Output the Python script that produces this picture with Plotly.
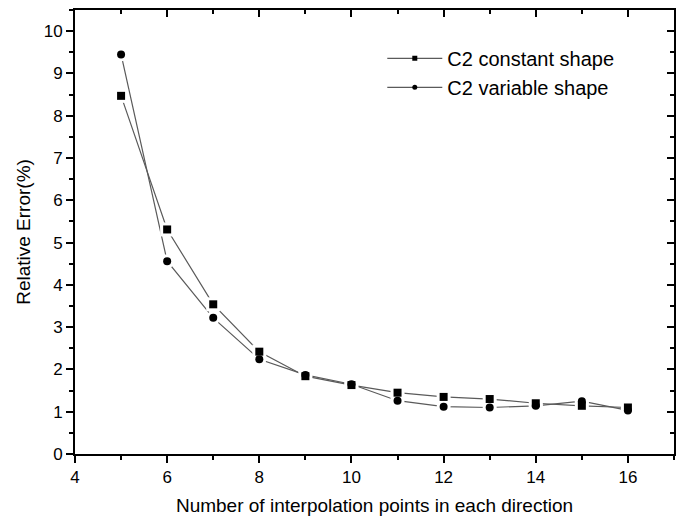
import plotly.graph_objects as go

# Number of interpolation points in each direction
points = [5, 6, 7, 8, 9, 10, 11, 12, 13, 14, 15, 16]

# Relative error (%) for each shape-parameter strategy
err_constant = [8.47, 5.31, 3.54, 2.42, 1.84, 1.63, 1.45, 1.35, 1.30, 1.20, 1.14, 1.10]
err_variable = [9.45, 4.56, 3.22, 2.24, 1.87, 1.65, 1.26, 1.12, 1.10, 1.14, 1.25, 1.03]

series_names = ["C2 constant shape", "C2 variable shape"]
symbols = ["square", "circle"]
series = [err_constant, err_variable]

FONT = "Liberation Sans, Arial, sans-serif"
LINE_COLOR = "#5a5a5a"

fig = go.Figure()

# Layer 1: connecting lines
for ys in series:
    fig.add_trace(go.Scatter(
        x=points, y=ys, mode="lines", showlegend=False, hoverinfo="skip",
        line=dict(color=LINE_COLOR, width=1.2),
    ))

# Layer 2: white halos that leave a small gap between line and marker
for ys, sym in zip(series, symbols):
    fig.add_trace(go.Scatter(
        x=points, y=ys, mode="markers", showlegend=False, hoverinfo="skip",
        marker=dict(symbol=sym, size=14, color="white", line=dict(width=0)),
    ))

# Layer 3: solid black markers
for ys, sym in zip(series, symbols):
    fig.add_trace(go.Scatter(
        x=points, y=ys, mode="markers", showlegend=False,
        marker=dict(symbol=sym, size=8, color="black", line=dict(width=0)),
    ))

# Legend entries with small markers
for name, sym in zip(series_names, symbols):
    fig.add_trace(go.Scatter(
        x=[None], y=[None], mode="lines+markers", name=name,
        line=dict(color=LINE_COLOR, width=1.2),
        marker=dict(symbol=sym, size=5, color="black"),
    ))

axis_common = dict(
    showline=True, linecolor="black", linewidth=2,
    showgrid=False, zeroline=False,
    tickcolor="black", tickwidth=2,
    tickfont=dict(family=FONT, size=17, color="black"),
)

fig.update_layout(
    width=681, height=521,
    margin=dict(l=75, r=7, t=10, b=67),
    paper_bgcolor="white", plot_bgcolor="white",
    font=dict(family=FONT, color="black"),
    xaxis=dict(
        range=[4, 17], dtick=2, tick0=4, ticks="outside", ticklen=7,
        minor=dict(dtick=1, tick0=4, ticks="outside", ticklen=4,
                   tickcolor="black", tickwidth=2),
        title=dict(text="Number of interpolation points in each direction",
                   font=dict(family=FONT, size=19), standoff=12),
        **axis_common,
    ),
    yaxis=dict(
        range=[0, 10.5], dtick=1, tick0=0, ticks="outside", ticklen=7,
        minor=dict(dtick=0.5, tick0=0, ticks="outside", ticklen=4,
                   tickcolor="black", tickwidth=2),
        title=dict(text="Relative Error(%)",
                   font=dict(family=FONT, size=19), standoff=8),
        **axis_common,
    ),
    # Frame on top and right with inward ticks
    xaxis2=dict(
        overlaying="x", side="top", range=[4, 17], dtick=2, tick0=4,
        ticks="inside", ticklen=7, showticklabels=False,
        minor=dict(dtick=1, tick0=4, ticks="inside", ticklen=4,
                   tickcolor="black", tickwidth=2),
        **axis_common,
    ),
    yaxis2=dict(
        overlaying="y", side="right", range=[0, 10.5], dtick=1, tick0=0,
        ticks="inside", ticklen=7, showticklabels=False,
        minor=dict(dtick=0.5, tick0=0, ticks="inside", ticklen=4,
                   tickcolor="black", tickwidth=2),
        **axis_common,
    ),
    legend=dict(
        x=0.513, y=0.935, xanchor="left", yanchor="top",
        bgcolor="rgba(0,0,0,0)", borderwidth=0,
        font=dict(family=FONT, size=20, color="black"),
        itemwidth=55, tracegroupgap=0,
    ),
)

# Invisible trace so the top and right frame axes are drawn
fig.add_trace(go.Scatter(x=[None], y=[None], xaxis="x2", yaxis="y2",
                         showlegend=False, hoverinfo="skip"))

fig.write_html("out.html")
